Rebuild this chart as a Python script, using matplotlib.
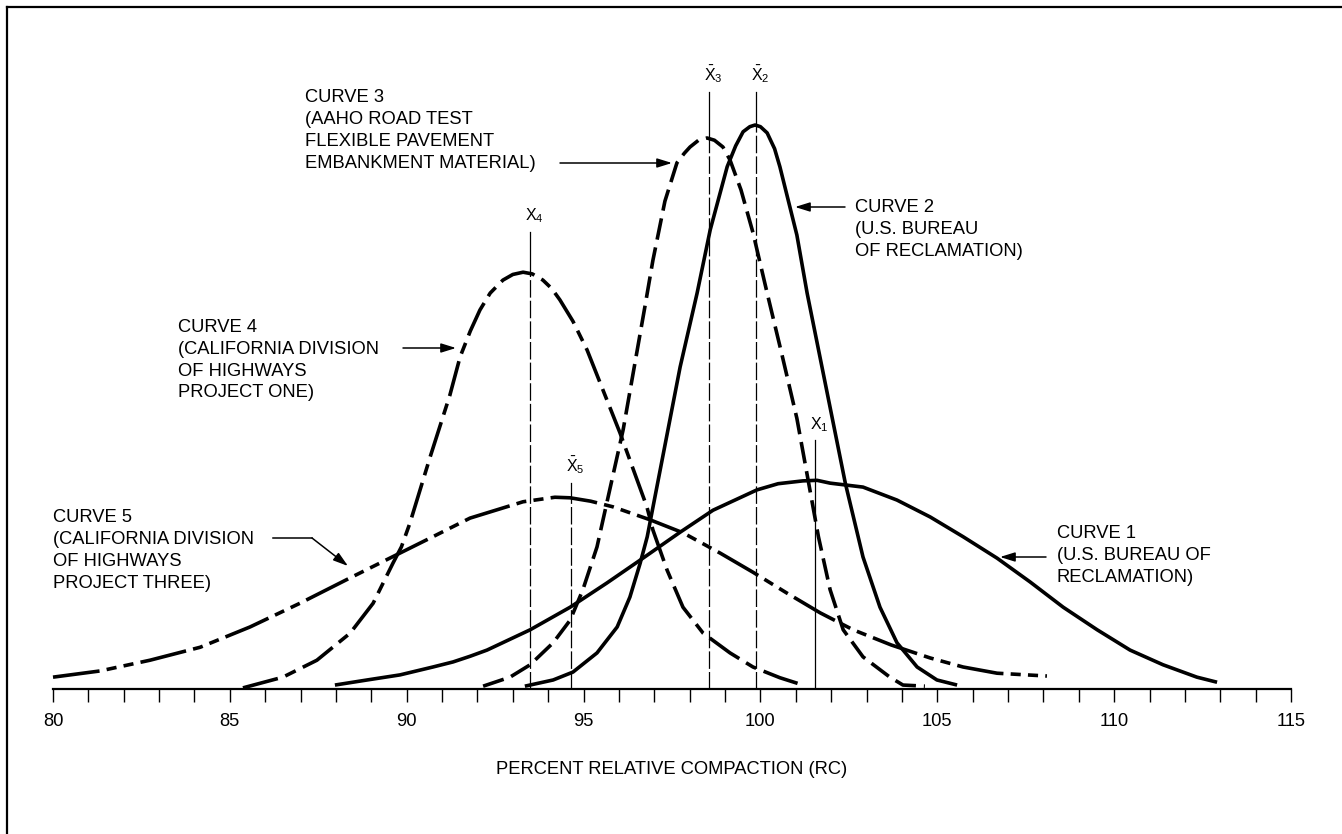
import numpy as np
import matplotlib
matplotlib.use("Agg")
import matplotlib.pyplot as plt
from matplotlib.lines import Line2D

plt.rcParams['font.family'] = ['Liberation Sans', 'DejaVu Sans']
plt.rcParams['mathtext.fontset'] = 'custom'
plt.rcParams['mathtext.rm'] = 'Liberation Sans'
plt.rcParams['mathtext.it'] = 'Liberation Sans'

# ---------------- data ----------------
x_major_ticks = [80, 85, 90, 95, 100, 105, 110, 115]
x_label = "PERCENT RELATIVE COMPACTION (RC)"

# Curve 1 (U.S. Bureau of Reclamation) - solid, broad
curve1_x = [87.97, 88.88, 89.81, 90.74, 91.31, 91.79, 92.27, 93.49, 94.62, 95.66, 96.68, 97.73,
            98.66, 99.90, 100.50, 101.20, 101.60, 101.97, 102.90, 103.86, 104.80, 105.73,
            106.69, 107.62, 108.56, 109.52, 110.45, 111.38, 112.34, 112.91]
curve1_y = [0.7, 1.6, 2.5, 3.9, 4.8, 5.8, 6.9, 10.5, 14.5, 18.8, 23.2, 27.8,
            31.7, 35.3, 36.4, 36.9, 37.0, 36.5, 35.8, 33.5, 30.5, 27.0,
            23.2, 19.0, 14.5, 10.5, 6.9, 4.3, 2.1, 1.2]

# Curve 2 (U.S. Bureau of Reclamation) - solid, narrow
curve2_x = [93.34, 94.14, 94.70, 95.38, 95.95, 96.31, 96.60, 96.80, 97.73, 98.21, 98.58, 99.06,
            99.30, 99.51, 99.70, 99.85, 100.00, 100.19, 100.40, 100.55, 101.03, 101.32,
            102.40, 102.90, 103.38, 103.86, 104.43, 104.99, 105.56]
curve2_y = [0.5, 1.6, 3.0, 6.4, 11.0, 16.3, 22.3, 27.0, 57.1, 70.2, 81.4, 92.6,
            96.3, 98.8, 99.7, 100.0, 99.7, 98.6, 95.8, 92.6, 80.5, 70.2,
            36.5, 23.4, 14.5, 8.2, 3.9, 1.6, 0.7]

# Curve 3 (AAHO Road Test) - dashed
curve3_x = [92.16, 92.92, 93.49, 94.14, 94.62, 94.98, 95.38, 95.55, 96.12, 96.74, 96.96, 97.30,
            97.64, 97.85, 98.01, 98.25, 98.49, 98.70, 98.94, 99.14, 99.45, 99.79, 100.19,
            100.60, 101.03, 101.64, 101.97, 102.34, 102.90, 103.66, 104.03, 104.65]
curve3_y = [0.5, 2.1, 4.3, 8.2, 12.2, 17.6, 25.2, 30.0, 46.0, 68.0, 76.0, 86.5,
            93.3, 95.0, 96.1, 97.3, 97.7, 97.3, 96.1, 93.8, 88.5, 80.9, 70.2,
            59.5, 48.0, 27.0, 17.6, 10.5, 5.7, 2.1, 0.7, 0.5]

# Curve 4 (California Division of Highways, Project One) - dash-dot
curve4_x = [85.37, 86.50, 87.46, 88.40, 89.05, 89.61, 89.85, 90.09, 90.66, 91.22, 91.51, 91.80,
            92.07, 92.36, 92.72, 93.00, 93.29, 93.55, 93.85, 94.10, 94.33, 94.70, 95.10,
            96.03, 96.79, 96.96, 97.36, 97.81, 98.38, 99.14, 99.79, 100.55, 101.20]
curve4_y = [0.2, 2.1, 5.1, 9.9, 15.2, 22.3, 25.2, 29.4, 41.1, 52.1, 58.9, 63.5,
            67.2, 70.2, 72.5, 73.5, 73.9, 73.6, 72.5, 71.0, 69.0, 65.2, 60.1,
            45.4, 32.3, 28.2, 21.1, 14.5, 9.9, 6.4, 3.9, 2.0, 0.7]

# Curve 5 (California Division of Highways, Project Three) - dash-dot-dot
curve5_x = [80.0, 81.33, 82.74, 84.16, 85.57, 86.98, 88.40, 89.81, 90.74, 91.79, 93.29, 94.19,
            94.62, 95.20, 95.83, 96.88, 97.81, 98.86, 99.79, 100.75, 101.69, 102.62, 103.70,
            104.80, 105.73, 106.69, 108.10]
curve5_y = [2.1, 3.2, 5.1, 7.4, 11.0, 15.2, 19.7, 24.1, 27.0, 30.3, 33.2, 34.0,
            33.9, 33.3, 32.3, 30.0, 27.7, 24.1, 20.7, 17.0, 13.5, 10.5, 7.8,
            5.5, 3.9, 2.8, 2.3]

# mean values (X-bar) of each curve
mean_names = ["1", "2", "3", "4", "5"]
mean_values = [101.54, 99.88, 98.55, 93.49, 94.65]

# ---------------- figure ----------------
W, H = 1342, 834
fig = plt.figure(figsize=(W / 100, H / 100), dpi=100)
fig.patch.set_facecolor('white')

YMAX = 689 / 5.64
ax = fig.add_axes([53 / W, 145 / H, 1238 / W, 689 / H])
ax.set_xlim(80, 115)
ax.set_ylim(0, YMAX)
for s in ['top', 'right', 'left']:
    ax.spines[s].set_visible(False)
ax.spines['bottom'].set_linewidth(1.6)
ax.set_yticks([])
ax.set_xticks(x_major_ticks)
ax.set_xticks(np.arange(80, 116, 1), minor=True)
ax.tick_params(axis='x', which='both', direction='out', length=9.5, width=1.0,
               labelsize=13.2, pad=8)
ax.patch.set_alpha(0)

LW = 2.6
curves = [
    (curve1_x, curve1_y, None),
    (curve2_x, curve2_y, None),
    (curve3_x, curve3_y, (0, (6, 2.2))),
    (curve4_x, curve4_y, (0, (10, 2.2, 3.2, 2.2))),
    (curve5_x, curve5_y, (0, (13, 2.0, 2.8, 2.0, 2.8, 2.0))),
]
for cx, cy, ls in curves:
    kw = dict(color='black', lw=LW, solid_capstyle='butt', dash_capstyle='butt',
              solid_joinstyle='round', dash_joinstyle='round', clip_on=False)
    if ls is None:
        ax.plot(cx, cy, ls='-', **kw)
    else:
        ax.plot(cx, cy, ls=ls, **kw)

# mean lines: solid above curve, long-dashed below
line_tops = [44.1, 105.9, 105.9, 81.0, 36.5]
curve_list = [(curve1_x, curve1_y), (curve2_x, curve2_y), (curve3_x, curve3_y),
              (curve4_x, curve4_y), (curve5_x, curve5_y)]
for i, (name, m) in enumerate(zip(mean_names, mean_values)):
    cx, cy = curve_list[i]
    h = float(np.interp(m, cx, cy))
    top = line_tops[i]
    if name == "1":
        ax.plot([m, m], [0, top], color='black', lw=0.9)
    else:
        ax.plot([m, m], [h, top], color='black', lw=0.9)
        ax.plot([m, m], [0, h], color='black', lw=0.9, ls=(0, (14, 2.5)))
    bar = r'\bar{\mathrm{X}}' if name in ("2", "3", "5") else r'\mathrm{X}'
    ax.text(m + 0.12, top + 1.2, r'$%s_{%s}$' % (bar, name), ha='center', va='bottom',
            fontsize=11.5)


def fp(px, py):
    return (px / W, 1 - py / H)


FS = 13.2
LS = 22


def block(px, py, lines):
    for k, t in enumerate(lines):
        fig.text(*fp(px, py + k * LS), t, ha='left', va='center', fontsize=FS)


def arrow(p0, p1):
    ax.annotate('', xy=fp(*p1), xycoords='figure fraction',
                xytext=fp(*p0), textcoords='figure fraction',
                arrowprops=dict(arrowstyle='-|>,head_length=0.9,head_width=0.28',
                                lw=1.1, color='black', shrinkA=0, shrinkB=0))


block(305, 97, ["CURVE 3", "(AAHO ROAD TEST", "FLEXIBLE PAVEMENT", "EMBANKMENT MATERIAL)"])
arrow((560, 163), (672, 163))

block(855, 207, ["CURVE 2", "(U.S. BUREAU", "OF RECLAMATION)"])
arrow((845, 207), (795, 207))

block(178, 327, ["CURVE 4", "(CALIFORNIA DIVISION", "OF HIGHWAYS", "PROJECT ONE)"])
arrow((403, 348), (456, 348))

block(53, 518, ["CURVE 5", "(CALIFORNIA DIVISION", "OF HIGHWAYS", "PROJECT THREE)"])
fig.add_artist(Line2D([273 / W, 312 / W], [1 - 538 / H, 1 - 538 / H], color='black', lw=1.1))
arrow((312, 538), (348, 566))

block(1057, 533, ["CURVE 1", "(U.S. BUREAU OF", "RECLAMATION)"])
arrow((1046, 557), (1000, 557))

fig.text(*fp(672, 770), x_label, ha='center', va='center', fontsize=FS)

# frame
fig.add_artist(Line2D([7 / W, 7 / W], [0, 1 - 7 / H], color='black', lw=1.6))
fig.add_artist(Line2D([7 / W, 1], [1 - 7 / H, 1 - 7 / H], color='black', lw=1.6))

fig.savefig("out.png", dpi=100, facecolor='white')
